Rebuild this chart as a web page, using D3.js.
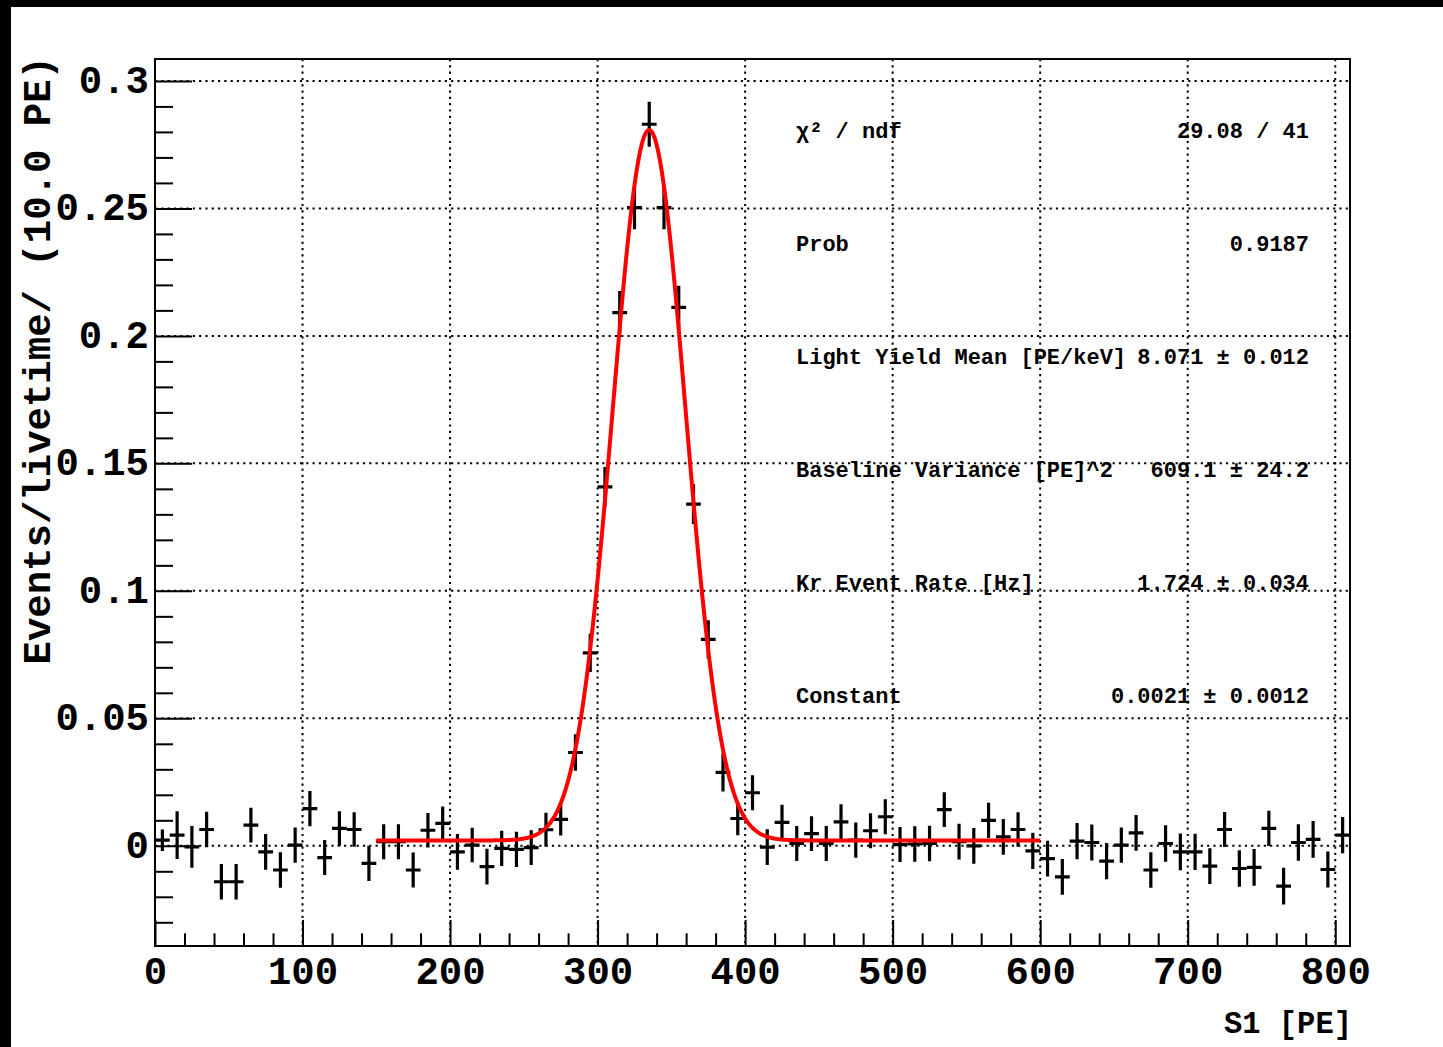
<!DOCTYPE html>
<html>
<head>
<meta charset="utf-8">
<script src="https://cdn.jsdelivr.net/npm/d3@7"></script>
<style>
  body { margin: 0; background: #fff; }
  text { font-family: "Liberation Mono", "Courier New", monospace; font-weight: bold; fill: #000; }
</style>
</head>
<body>
<script>
// histogram bins (centre, PE) and contents (events/livetime per 10 PE)
var binCenters = [5, 15, 25, 35, 45, 55, 65, 75, 85, 95,
  105, 115, 125, 135, 145, 155, 165, 175, 185, 195,
  205, 215, 225, 235, 245, 255, 265, 275, 285, 295,
  305, 315, 325, 335, 345, 355, 365, 375, 385, 395,
  405, 415, 425, 435, 445, 455, 465, 475, 485, 495,
  505, 515, 525, 535, 545, 555, 565, 575, 585, 595,
  605, 615, 625, 635, 645, 655, 665, 675, 685, 695,
  705, 715, 725, 735, 745, 755, 765, 775, 785, 795, 805];
var binValues = [0.0022, 0.0042, -0.0004, 0.0064, -0.0141, -0.0141, 0.0081, -0.0024, -0.0095, 0.0003,
  0.0146, -0.0046, 0.0068, 0.0064, -0.0069, 0.0016, 0.0016, -0.0095, 0.0061, 0.0088,
  -0.0024, 0.0003, -0.0082, -0.0010, -0.0014, -0.0007, 0.0063, 0.0104, 0.0366, 0.0757,
  0.1408, 0.2091, 0.2503, 0.2830, 0.2503, 0.2112, 0.1340, 0.0810, 0.0288, 0.0107,
  0.0208, -0.0005, 0.0092, 0.0009, 0.0048, 0.0009, 0.0094, 0.0022, 0.0059, 0.0114,
  0.0005, 0.0007, 0.0009, 0.0142, 0.0016, 0.0000, 0.0100, 0.0035, 0.0064, -0.0020,
  -0.0050, -0.0122, 0.0018, 0.0013, -0.0060, 0.0003, 0.0051, -0.0095, 0.0009, -0.0024,
  -0.0024, -0.0080, 0.0064, -0.0089, -0.0085, 0.0068, -0.0158, 0.0013, 0.0025, -0.0093, 0.0042];
var binErrors = [0.0042, 0.0094, 0.0082, 0.0070, 0.0070, 0.0070, 0.0068, 0.0070, 0.0070, 0.0069,
  0.0069, 0.0069, 0.0068, 0.0068, 0.0069, 0.0069, 0.0069, 0.0069, 0.0068, 0.0066,
  0.0070, 0.0068, 0.0070, 0.0069, 0.0069, 0.0068, 0.0067, 0.0064, 0.0072, 0.0075,
  0.0078, 0.0085, 0.0085, 0.0088, 0.0085, 0.0085, 0.0078, 0.0075, 0.0075, 0.0066,
  0.0069, 0.0070, 0.0069, 0.0069, 0.0068, 0.0069, 0.0069, 0.0069, 0.0069, 0.0069,
  0.0069, 0.0070, 0.0070, 0.0068, 0.0070, 0.0070, 0.0069, 0.0070, 0.0068, 0.0071,
  0.0070, 0.0070, 0.0071, 0.0071, 0.0071, 0.0069, 0.0070, 0.0070, 0.0072, 0.0072,
  0.0071, 0.0070, 0.0069, 0.0072, 0.0072, 0.0069, 0.0072, 0.0072, 0.0072, 0.0071, 0.0071];
var binWidth = 10;

// fit parameters (as printed in the stats box)
var lightYield = 8.071, krEnergy = 41.5, baselineVar = 609.1, krRate = 1.724, fitConst = 0.0021;
var fitRange = [150, 600];

var xTicks = [0, 100, 200, 300, 400, 500, 600, 700, 800];
var yTicks = [0, 0.05, 0.1, 0.15, 0.2, 0.25, 0.3];
var yTickLabels = ["0", "0.05", "0.1", "0.15", "0.2", "0.25", "0.3"];
var xMinor = [20, 40, 60, 80, 120, 140, 160, 180, 220, 240, 260, 280, 320, 340, 360, 380,
  420, 440, 460, 480, 520, 540, 560, 580, 620, 640, 660, 680, 720, 740, 760, 780];
var yMinor = [-0.03, -0.02, -0.01, 0.01, 0.02, 0.03, 0.04, 0.06, 0.07, 0.08, 0.09, 0.11, 0.12, 0.13, 0.14,
  0.16, 0.17, 0.18, 0.19, 0.21, 0.22, 0.23, 0.24, 0.26, 0.27, 0.28, 0.29];

var statLabels = ["\u03c7\u00b2 / ndf", "Prob", "Light Yield Mean [PE/keV]", "Baseline Variance [PE]^2", "Kr Event Rate [Hz]", "Constant"];
var statValues = ["29.08 / 41", "0.9187", "8.071 \u00b1 0.012", "609.1 \u00b1 24.2", "1.724 \u00b1 0.034", "0.0021 \u00b1 0.0012"];

var W = 1443, H = 1047;
var padL = 155, padR = 1350, padT = 59, padB = 946;

var svg = d3.select("body").append("svg")
    .attr("width", W)
    .attr("height", H);

svg.append("rect").attr("width", W).attr("height", H).attr("fill", "#fff");
// black canvas edges
svg.append("rect").attr("x", 0).attr("y", 0).attr("width", W).attr("height", 7).attr("fill", "#000");
svg.append("rect").attr("x", 0).attr("y", 0).attr("width", 11).attr("height", H).attr("fill", "#000");

var x = d3.scaleLinear().domain([0, 810]).range([padL, padR]);
var y = d3.scaleLinear().domain([-0.0393, 0.3086]).range([padB, padT]);

// grid
var grid = svg.append("g")
    .attr("stroke", "#000")
    .attr("stroke-width", 2)
    .attr("stroke-dasharray", "2.2,4.1")
    .attr("fill", "none");
grid.selectAll(".gx").data(xTicks.slice(1)).enter().append("line")
    .attr("x1", function(d) { return x(d); }).attr("x2", function(d) { return x(d); })
    .attr("y1", padT).attr("y2", padB);
grid.selectAll(".gy").data(yTicks).enter().append("line")
    .attr("x1", padL).attr("x2", padR)
    .attr("y1", function(d) { return y(d); }).attr("y2", function(d) { return y(d); });

// fit curve
var fitMean = lightYield * krEnergy;
var fitAmp = krRate * binWidth / Math.sqrt(2 * Math.PI * baselineVar);
function fitFunc(s) {
  return fitConst + fitAmp * Math.exp(-(s - fitMean) * (s - fitMean) / (2 * baselineVar));
}
var fitX = d3.range(fitRange[0], fitRange[1] + 0.01, 0.5);
var line = d3.line()
    .x(function(d) { return x(d); })
    .y(function(d) { return y(fitFunc(d)); });

// data points with errors
var pts = binCenters.map(function(c, i) { return { c: c, v: binValues[i], e: binErrors[i] }; });
svg.append("g").selectAll("path").data(pts).enter().append("path")
    .attr("fill", "none")
    .attr("stroke", "#000")
    .attr("stroke-width", 3.2)
    .attr("d", function(d) {
      return "M" + x(d.c - binWidth / 2) + "," + y(d.v) + "H" + x(d.c + binWidth / 2) +
             "M" + x(d.c) + "," + y(d.v + d.e) + "V" + y(d.v - d.e);
    });

svg.append("path")
    .datum(fitX)
    .attr("fill", "none")
    .attr("stroke", "#ff0000")
    .attr("stroke-width", 4)
    .attr("stroke-linejoin", "round")
    .attr("d", line);

// axes
var yAxis = svg.append("g").attr("transform", "translate(" + padL + ",0)")
    .call(d3.axisLeft(y).tickValues(yTicks).tickSize(-37).tickSizeOuter(0).tickPadding(6)
      .tickFormat(function(d, i) { return yTickLabels[i]; }));
svg.append("g").attr("transform", "translate(" + padL + ",0)")
    .call(d3.axisLeft(y).tickValues(yMinor).tickSize(-18).tickSizeOuter(0).tickFormat(""));
var xAxis = svg.append("g").attr("transform", "translate(0," + padB + ")")
    .call(d3.axisBottom(x).tickValues(xTicks).tickSize(-26).tickSizeOuter(0).tickPadding(10));
svg.append("g").attr("transform", "translate(0," + padB + ")")
    .call(d3.axisBottom(x).tickValues(xMinor).tickSize(-12.7).tickSizeOuter(0).tickFormat(""));

svg.selectAll(".domain").remove();
svg.selectAll(".tick line").attr("stroke", "#000").attr("stroke-width", 2);
svg.selectAll(".tick text")
    .attr("font-family", null)
    .attr("font-size", null)
    .style("font-size", "39px");
yAxis.selectAll(".tick text").attr("dy", "0.29em");

// frame
svg.append("rect")
    .attr("x", padL).attr("y", padT)
    .attr("width", padR - padL).attr("height", padB - padT)
    .attr("fill", "none").attr("stroke", "#000").attr("stroke-width", 2);

// titles
svg.append("text")
    .attr("x", 1352).attr("y", 1033)
    .attr("text-anchor", "end")
    .style("font-size", "30.5px")
    .text("S1 [PE]");
svg.append("text")
    .attr("transform", "translate(50,56) rotate(-90)")
    .attr("text-anchor", "end")
    .style("font-size", "39px")
    .text("Events/livetime/ (10.0 PE)");

// stats box
var stats = svg.append("g");
statLabels.forEach(function(lab, i) {
  var yy = 138 + i * 113;
  stats.append("text").attr("x", 796).attr("y", yy).style("font-size", "22px").text(lab);
  stats.append("text").attr("x", 1309).attr("y", yy).attr("text-anchor", "end")
      .style("font-size", "22px").text(statValues[i]);
});
</script>
</body>
</html>
